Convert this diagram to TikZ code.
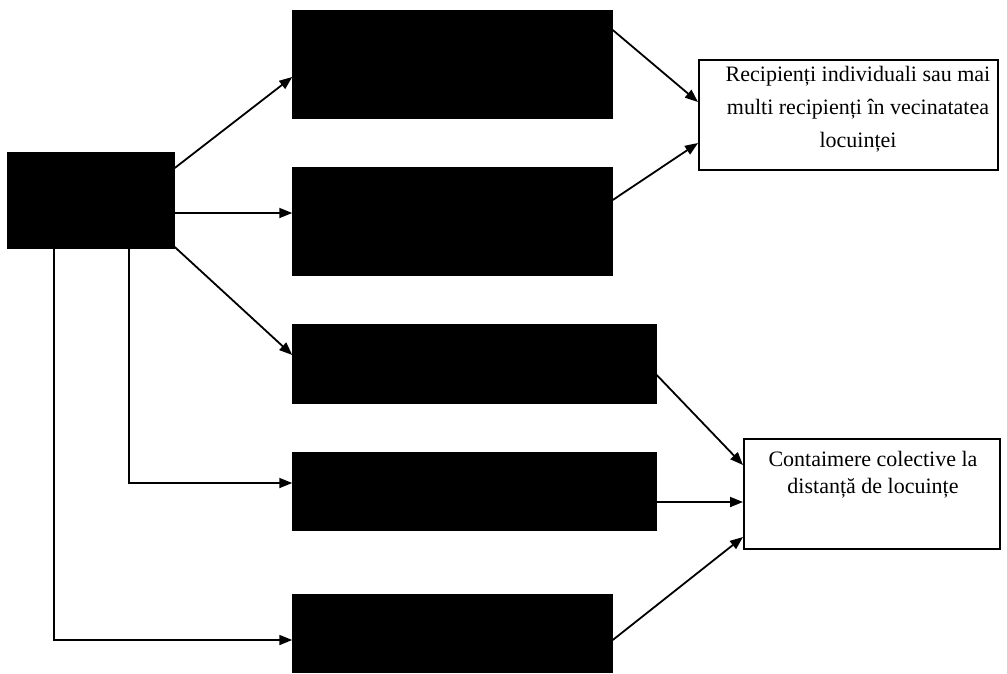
\documentclass[tikz,border=0pt]{standalone}
\usepackage{fontspec}
\setmainfont{Liberation Serif}
\usetikzlibrary{arrows.meta}
\begin{document}
\begin{tikzpicture}[x=1pt,y=-1pt,
  darkbox/.style={draw=black, fill=black, line width=1.5pt, inner sep=0pt},
  whitebox/.style={draw=black, fill=white, line width=2pt, inner sep=0pt},
  link/.style={line width=1.8pt, -{Triangle[length=13pt,width=10pt]}},
  boxtext/.style={align=center, inner sep=0pt}]
\useasboundingbox (0,0) rectangle (1007,673);

% source block and the five dark blocks
\node[darkbox, minimum width=166pt, minimum height=95pt]  (L)  at (91,200.5) {};
\node[darkbox, minimum width=319pt, minimum height=107pt] (B1) at (452.5,64.5) {};
\node[darkbox, minimum width=319pt, minimum height=107pt] (B2) at (452.5,221.5) {};
\node[darkbox, minimum width=363pt, minimum height=78pt]  (B3) at (474.5,364) {};
\node[darkbox, minimum width=363pt, minimum height=77pt]  (B4) at (474.5,491.5) {};
\node[darkbox, minimum width=319pt, minimum height=77pt]  (B5) at (452.5,633.5) {};

% the two outcome boxes
\node[whitebox, minimum width=299pt, minimum height=110pt] (R1) at (848.5,115) {};
\node[whitebox, minimum width=256pt, minimum height=110pt] (R2) at (872,494) {};
\node[boxtext, font=\fontsize{22}{33}\selectfont] (T1) at (858,109)
  {Recipienți individuali sau mai\\multi recipienți în vecinatatea\\locuinței};
\node[boxtext, font=\fontsize{22}{27}\selectfont] (T2) at (873,475)
  {Contaimere colective la\\distanță de locuințe};

% connectors from the source block
\coordinate (a2) at ([yshift=-12.5pt]L.east);
\coordinate (d4) at ([xshift=38pt]L.south);
\coordinate (d5) at ([xshift=-37pt]L.south);
\draw[link] ([yshift=32.5pt]L.east) -- ([yshift=-12.5pt]B1.west);
\draw[link] (a2) -- (a2 -| B2.west);
\draw[link] ([yshift=-46.5pt]L.east) -- ([yshift=9pt]B3.west);
\draw[link] (d4) |- ([yshift=8.5pt]B4.west);
\draw[link] (d5) |- ([yshift=-6.5pt]B5.west);

% connectors into the outcome boxes
\coordinate (s4) at ([yshift=-10.5pt]B4.east);
\draw[link] ([yshift=34.5pt]B1.east) -- ([yshift=13pt]R1.west);
\draw[link] ([yshift=21.5pt]B2.east) -- ([yshift=-28pt]R1.west);
\draw[link] ([yshift=-11pt]B3.east) -- ([yshift=29pt]R2.west);
\draw[link] (s4) -- (s4 -| R2.west);
\draw[link] ([yshift=-6.5pt]B5.east) -- ([yshift=-43pt]R2.west);
\end{tikzpicture}
\end{document}
